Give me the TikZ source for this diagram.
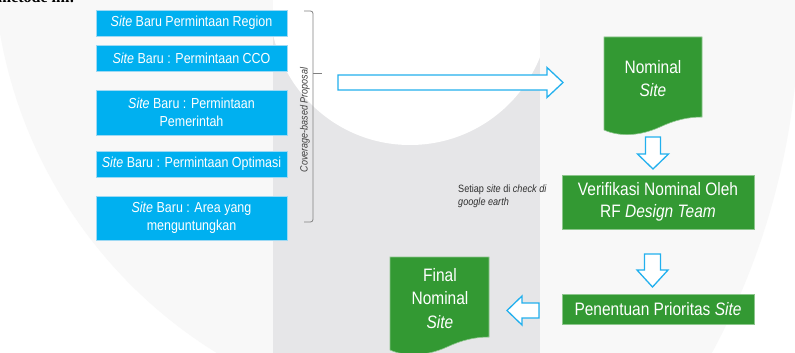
\documentclass[tikz,border=0pt]{standalone}
\usepackage{fontspec}
\setmainfont[FakeStretch=0.86]{Liberation Sans}
\newfontfamily\serifcut{Liberation Serif}
\definecolor{bluefill}{HTML}{00B0F0}
\definecolor{blueedge}{HTML}{9ED9F3}
\definecolor{greenfill}{HTML}{339933}
\definecolor{greenedge}{HTML}{8CC68C}
\definecolor{arrowblue}{HTML}{22B0EE}
\definecolor{lightbg}{HTML}{F8F8F8}
\definecolor{bandbg}{HTML}{E6E6E8}
\definecolor{bracketgray}{HTML}{808080}
\definecolor{labelgray}{HTML}{404040}
\definecolor{annot}{HTML}{303030}
\tikzset{
  bluebox/.style={fill=bluefill, draw=blueedge, line width=0.8pt, text=white,
    minimum width=191pt, align=center, inner sep=0pt,
    font=\fontsize{14.5}{18}\selectfont},
  greenbox/.style={fill=greenfill, draw=greenedge, line width=0.8pt, text=white,
    align=center, inner sep=0pt, font=\fontsize{18}{22.5}\selectfont},
  doctext/.style={text=white, align=center, inner sep=0pt,
    font=\fontsize{18}{23.5}\selectfont},
  docshape/.style={fill=greenfill, draw=greenedge, line width=0.6pt},
  blockarrow/.style={draw=arrowblue, fill=white, line width=1.3pt, line join=miter},
  bracketline/.style={draw=bracketgray, line width=0.8pt},
}
\begin{document}
\begin{tikzpicture}[x=1pt,y=-1pt]
\useasboundingbox (0,0) rectangle (795,353);
\clip (0,0) rectangle (795,353);
% background watermark
\fill[white] (0,0) rectangle (795,353);
\begin{scope}
  \clip (464,-48) circle[radius=471pt];
  \fill[lightbg] (74,8) circle[radius=725pt];
\end{scope}
\begin{scope}
  \clip (273,0) rectangle (540,353);
  \fill[bandbg] (273,0) rectangle (540,353);
  \fill[white] (410,5) circle[radius=140pt];
\end{scope}
% cropped text at top edge
\node[anchor=base east, inner sep=0pt, font=\serifcut\bfseries\fontsize{16}{18}\selectfont] (topcut) at (75,2.5) {metode ini:};
% blue boxes
\node[bluebox, minimum height=26pt] (b1) at (191.5,23) {\textit{Site} Baru Permintaan Region};
\node[bluebox, minimum height=26pt] (b2) at (191.5,58) {\textit{Site} Baru : Permintaan CCO};
\node[bluebox, minimum height=45pt] (b3) at (191.5,112.5) {\textit{Site} Baru : Permintaan\\Pemerintah};
\node[bluebox, minimum height=26pt] (b4) at (191.5,164) {\textit{Site} Baru : Permintaan Optimasi};
\node[bluebox, minimum height=44pt] (b5) at (191.5,218) {\textit{Site} Baru : Area yang\\menguntungkan};
% bracket
\draw[bracketline, rounded corners=2.5pt] (304,11) -- (313,11) -- (313,222) -- (304,222);
\coordinate (brk) at (313,73);
\draw[bracketline] (brk) -- ++(9,0);
\node[rotate=90, inner sep=0pt, text=labelgray, font=\fontsize{10.5}{12}\selectfont\itshape] (cbp) at (305,120) {Coverage-based Proposal};
% big arrow
\draw[blockarrow] (338,75) -- (547,75) -- (547,67.5) -- (563,82.5) -- (547,97.5) -- (547,90) -- (338,90) -- cycle;
% Nominal Site document
\draw[docshape] (604,37) -- (702,37) -- (702,117) .. controls (688,117) and (675,120) .. (660,127) .. controls (640,136) and (620,137) .. (604,130) -- cycle;
\node[doctext] (nom) at (653,78.5) {Nominal\\\textit{Site}};
% down arrow 1
\draw[blockarrow] (645.5,137) -- (660.5,137) -- (660.5,154) -- (668.5,154) -- (653,169) -- (637.5,154) -- (645.5,154) -- cycle;
% Verifikasi
\node[greenbox, minimum width=192pt, minimum height=54pt] (ver) at (658,202) {Verifikasi Nominal Oleh\\RF \textit{Design Team}};
% annotation
\node[anchor=north west, align=left, inner sep=0pt, text=annot, font=\fontsize{10.6}{13.5}\selectfont] (note) at (458,184.5) {Setiap \textit{site} di \textit{check di}\\\textit{google earth}};
% down arrow 2
\draw[blockarrow] (644.5,254) -- (660.5,254) -- (660.5,270) -- (668,270) -- (652.5,287) -- (637,270) -- (644.5,270) -- cycle;
% Penentuan
\node[greenbox, minimum width=192pt, minimum height=30pt] (pen) at (658,309) {Penentuan Prioritas \textit{Site}};
% left arrow
\draw[blockarrow] (539,303) -- (522,303) -- (522,296) -- (507,310.5) -- (522,325) -- (522,318) -- (539,318) -- cycle;
% Final Nominal Site document
\draw[docshape] (390,257) -- (489,257) -- (489,337) .. controls (475,337) and (462,340) .. (447,347) .. controls (427,356) and (406,357) .. (390,350) -- cycle;
\node[doctext] (fin) at (440,298.5) {Final\\Nominal\\\textit{Site}};
\end{tikzpicture}
\end{document}
